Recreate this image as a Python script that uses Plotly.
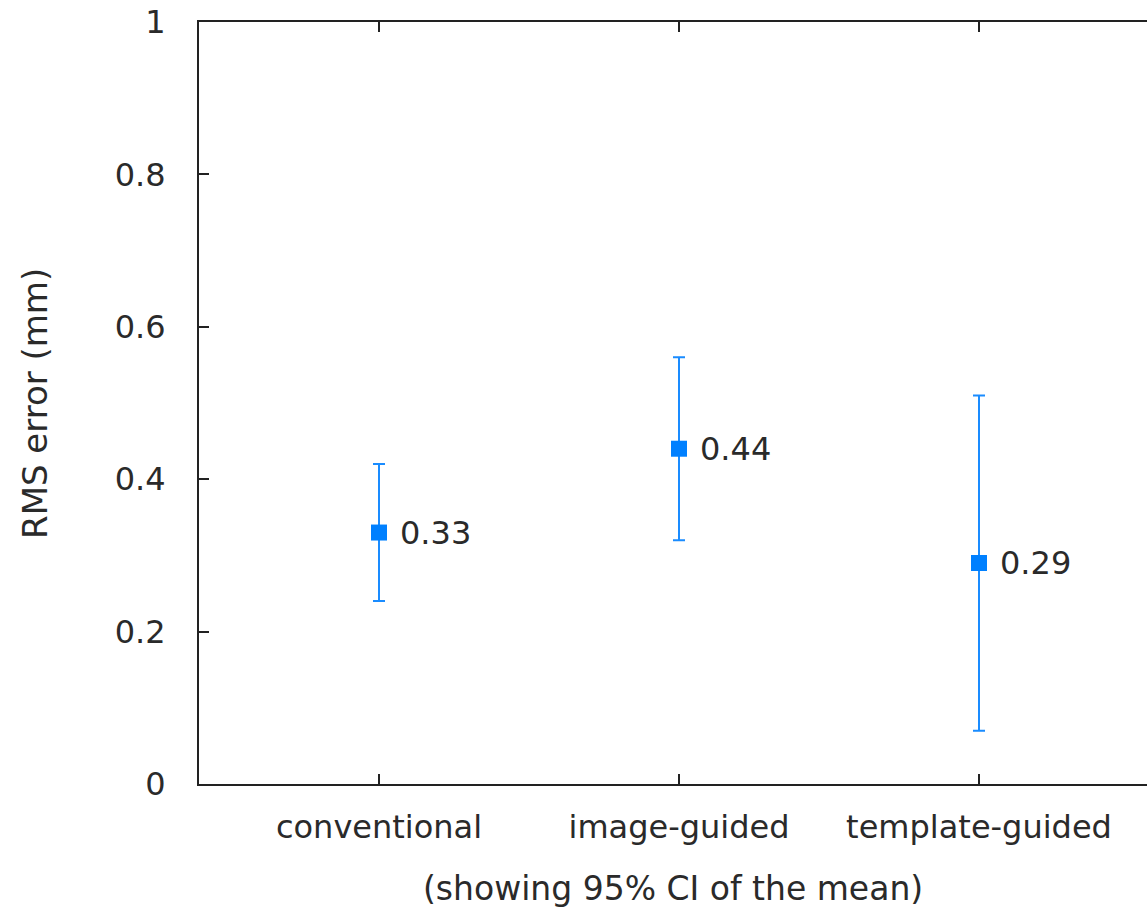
import plotly.graph_objects as go

categories = ["conventional", "image-guided", "template-guided"]
means = [0.33, 0.44, 0.29]
ci_low = [0.24, 0.32, 0.07]
ci_high = [0.42, 0.56, 0.51]
y_ticks = [0, 0.2, 0.4, 0.6, 0.8, 1]
y_tick_labels = ["0", "0.2", "0.4", "0.6", "0.8", "1"]

FONT = "DejaVu Sans"
TXT = "#2a2a2a"
xs = list(range(len(categories)))

fig = go.Figure()
fig.add_trace(go.Scatter(
    x=xs, y=means, mode="markers",
    marker=dict(symbol="square", size=16, color="#0080ff", line=dict(width=0)),
    error_y=dict(type="data", symmetric=False,
                 array=[h - m for h, m in zip(ci_high, means)],
                 arrayminus=[m - l for m, l in zip(means, ci_low)],
                 color="#1a8cff", thickness=2, width=6),
    showlegend=False, hoverinfo="skip",
))

for x, m in zip(xs, means):
    fig.add_annotation(x=x, y=m, xref="x", yref="y", text=f"{m:.2f}",
                       showarrow=False, xanchor="left", yanchor="middle",
                       xshift=19, font=dict(family=FONT, size=32, color=TXT))

fig.add_annotation(x=0.5, y=-0.1365, xref="paper", yref="paper",
                   text="(showing 95% CI of the mean)", showarrow=False,
                   xanchor="center", yanchor="middle",
                   font=dict(family=FONT, size=33, color=TXT))
fig.add_annotation(x=-0.173, y=0.5, xref="paper", yref="paper",
                   text="RMS error (mm)", showarrow=False, textangle=-90,
                   xanchor="center", yanchor="middle",
                   font=dict(family=FONT, size=34, color=TXT))

fig.update_layout(
    width=1147, height=912,
    margin=dict(l=199, r=0, t=22, b=128, pad=0),
    paper_bgcolor="white", plot_bgcolor="white",
    font=dict(family=FONT, size=32, color=TXT),
    xaxis=dict(range=[-0.6, 2.56], tickvals=xs, ticktext=categories,
               showgrid=False, zeroline=False, showline=True, linecolor="#222",
               linewidth=2, mirror="ticks", ticks="inside", ticklen=10,
               tickwidth=2, tickcolor="#222", ticklabelstandoff=14),
    yaxis=dict(range=[0, 1], tickvals=y_ticks, ticktext=y_tick_labels,
               showgrid=False, zeroline=False, showline=True, linecolor="#222",
               linewidth=2, mirror=False, ticks="inside", ticklen=10,
               tickwidth=2, tickcolor="#222", ticklabelstandoff=25),
)

fig.write_html("out.html")
